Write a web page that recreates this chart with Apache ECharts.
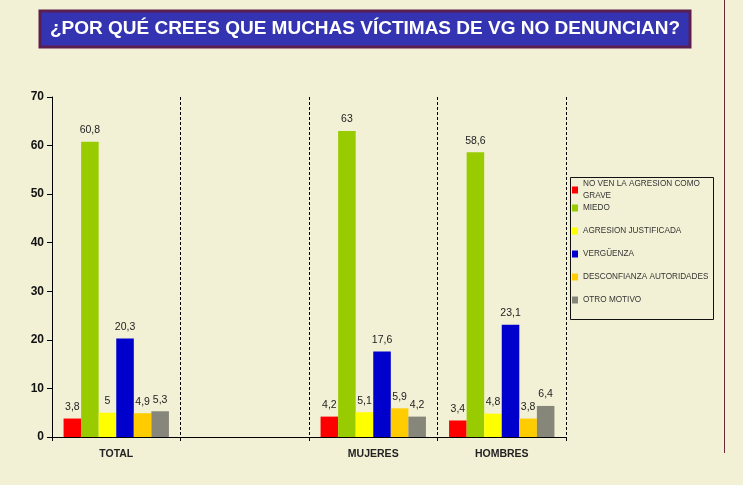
<!DOCTYPE html>
<html><head><meta charset="utf-8">
<script src="https://cdn.jsdelivr.net/npm/echarts@6/dist/echarts.min.js"></script>
<style>html,body{margin:0;padding:0;background:#F3F1D5;}#c{width:743px;height:485px;}</style>
</head><body><div id="c"></div>
<script>
const categories = ['TOTAL', '', 'MUJERES', 'HOMBRES'];
const seriesNames = ['NO VEN LA AGRESION COMO\nGRAVE', 'MIEDO', 'AGRESION JUSTIFICADA', 'VERGÜENZA', 'DESCONFIANZA AUTORIDADES', 'OTRO MOTIVO'];
const seriesColors = ['#FF0000', '#99CC00', '#FFFF00', '#0000CC', '#FFCC00', '#86867A'];
const noVen = [3.8, '-', 4.2, 3.4];
const miedo = [60.8, '-', 63, 58.6];
const agresion = [5, '-', 5.1, 4.8];
const verguenza = [20.3, '-', 17.6, 23.1];
const desconfianza = [4.9, '-', 5.9, 3.8];
const otro = [5.3, '-', 4.2, 6.4];
const yTicks = [0, 10, 20, 30, 40, 50, 60, 70];

const values = [noVen, miedo, agresion, verguenza, desconfianza, otro];
const chart = echarts.init(document.getElementById('c'));
const legendText = {fontSize: 8.2, fontFamily: 'Arial, Liberation Sans', color: '#333', lineHeight: 12};
chart.setOption({
  backgroundColor: '#F3F1D5',
  animation: false,
  title: {
    text: '¿POR QUÉ CREES QUE MUCHAS VÍCTIMAS DE VG NO DENUNCIAN?',
    left: 365, textAlign: 'center', top: 19, padding: 0,
    textStyle: {color: '#FFFFFF', fontSize: 19, fontWeight: 'bold', fontFamily: 'Arial, Liberation Sans'}
  },
  graphic: [
    {type: 'rect', z: 0, shape: {x: 40, y: 11, width: 650, height: 36}, style: {fill: '#3434B2', stroke: '#5A1E50', lineWidth: 3}},
    {type: 'rect', z: 0, shape: {x: 570.5, y: 177.5, width: 143, height: 142}, style: {fill: 'transparent', stroke: '#111', lineWidth: 1}},
    {type: 'line', z: 0, shape: {x1: 724.5, y1: 0, x2: 724.5, y2: 453}, style: {stroke: '#6B2A3A', lineWidth: 1}}
  ],
  legend: [
    {data: [seriesNames[0]], orient: 'vertical', left: 572, top: 178, padding: 0,
     itemWidth: 6, itemHeight: 7, icon: 'rect', textStyle: legendText},
    {data: seriesNames.slice(1), orient: 'vertical', left: 572, top: 202, padding: 0, itemGap: 11,
     itemWidth: 6, itemHeight: 7, icon: 'rect', textStyle: legendText}
  ],
  grid: {left: 52, right: 177, top: 97, bottom: 48},
  xAxis: {
    type: 'category', data: categories,
    axisLine: {lineStyle: {color: '#000', width: 1}},
    axisTick: {show: true, length: 4, lineStyle: {color: '#000'}},
    splitLine: {show: true, lineStyle: {type: [3, 2], color: '#000', width: 1}},
    axisLabel: {color: '#222', fontSize: 10.5, fontWeight: 'bold', fontFamily: 'Arial, Liberation Sans', margin: 12}
  },
  yAxis: {
    type: 'value', min: yTicks[0], max: yTicks[yTicks.length - 1], interval: 10,
    axisLine: {show: true, lineStyle: {color: '#000', width: 1}},
    axisTick: {show: true, length: 5, lineStyle: {color: '#000'}},
    splitLine: {show: false},
    axisLabel: {color: '#111', fontSize: 12, fontWeight: 'bold', fontFamily: 'Arial, Liberation Sans', margin: 8}
  },
  series: seriesNames.map((n, i) => ({
    name: n, type: 'bar', data: values[i], barGap: '0%', barCategoryGap: '18%',
    itemStyle: {color: seriesColors[i]},
    label: {show: true, position: 'top', distance: 6, color: '#222', fontSize: 10.5, fontFamily: 'Arial, Liberation Sans',
      formatter: p => String(p.value).replace('.', ',')}
  }))
});
</script></body></html>
